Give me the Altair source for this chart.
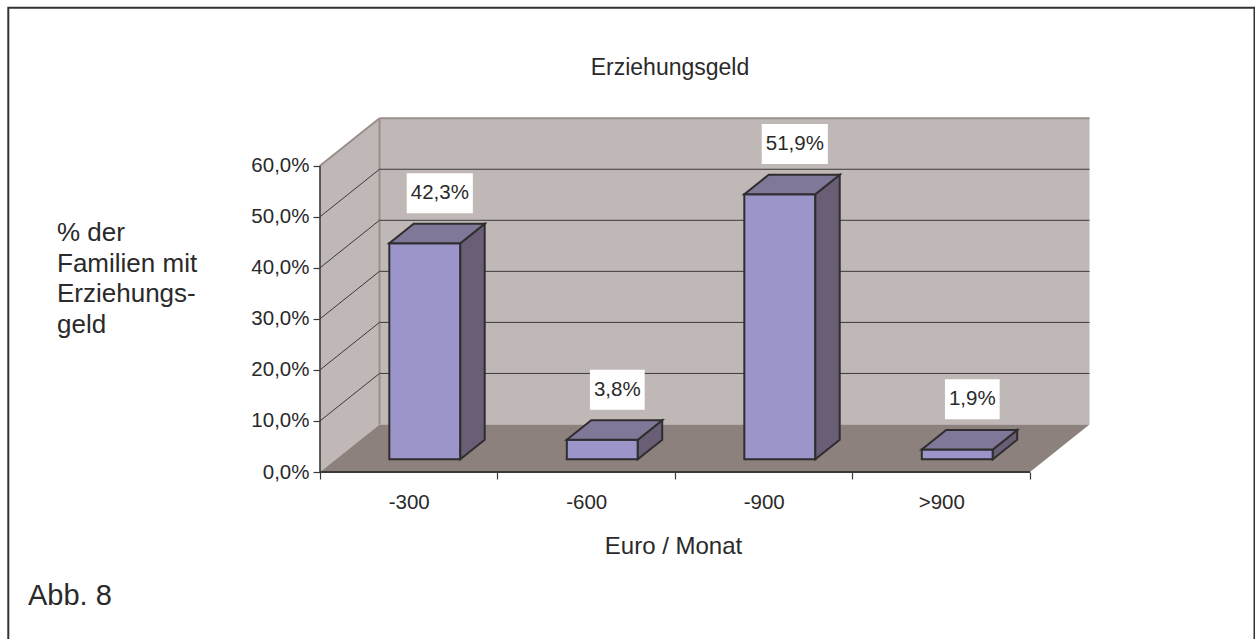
import json
import altair as alt
import pandas as pd

# ---- data -------------------------------------------------------------
categories = ["-300", "-600", "-900", ">900"]
shares = [42.3, 3.8, 51.9, 1.9]          # % der Familien mit Erziehungsgeld
y_ticks = [0, 10, 20, 30, 40, 50, 60]
wall_top = 60

# ---- plot geometry ----------------------------------------------------
W, H = 780, 368
PX_X = 177.5          # pixels per category slot
PX_Y = 5.105          # pixels per percentage point
X_LEFT, X_RIGHT = -0.5, len(categories) - 0.5
X_MAX = X_LEFT + W / PX_X
Y_MAX = H / PX_Y

# oblique projection of the depth direction (full floor depth)
DX = 59.5 / PX_X
DY = 47.5 / PX_Y
D0, D1 = 0.27, 0.68    # front / back depth of the columns
HW = 0.2               # half column width in category units

FONT = "Liberation Sans"
TEXT = "#2a2a2a"
WALL = "#c0b8b6"
FLOOR = "#8d817e"
EDGE = "#9a8f8d"
GRID = "#3a3a3a"
OUTLINE = "#2e2e2e"
FRONT = "#9b95c9"
TOP = "#817799"
SIDE = "#6a5e76"

xs = alt.Scale(domain=[X_LEFT, X_MAX], nice=False, zero=False)
ys = alt.Scale(domain=[0, Y_MAX], nice=False, zero=False)

x_labels = json.dumps(categories + [""])
X_AXIS = alt.Axis(
    values=[X_LEFT + k for k in range(len(categories) + 1)],
    labelExpr=f"{x_labels}[round(datum.value + 0.5)]",
    labelOffset=PX_X / 2, labelFlush=False, labelOverlap=False, labelBound=False,
    labelFont=FONT, labelFontSize=20.5, labelColor=TEXT,
    labelBaseline="alphabetic", labelPadding=29, labelAlign="center",
    tickSize=7, tickColor=GRID, tickWidth=1.2, domain=False, grid=False, title=None,
)
Y_AXIS = alt.Axis(
    values=y_ticks,
    labelExpr="replace(format(datum.value, '.1f'), '.', ',') + '%'",
    labelFont=FONT, labelFontSize=20.5, labelColor=TEXT, labelPadding=4,
    tickSize=7, tickColor=GRID, tickWidth=1.2, domain=False, grid=False, title=None,
)


def X(field="x"):
    return alt.X(f"{field}:Q", scale=xs, axis=X_AXIS)


def Y(field="y"):
    return alt.Y(f"{field}:Q", scale=ys, axis=Y_AXIS, stack=None)


# ---- walls and floor --------------------------------------------------
back_wall = pd.DataFrame([{"x": X_LEFT + DX, "x2": X_RIGHT + DX, "y": DY, "y2": wall_top + DY}])
left_wall = pd.DataFrame([
    {"x": X_LEFT, "y": 0, "y2": wall_top},
    {"x": X_LEFT + DX, "y": DY, "y2": wall_top + DY},
])
floor = pd.DataFrame([
    {"x": X_LEFT, "y": 0, "y2": 0},
    {"x": X_LEFT + DX, "y": 0, "y2": DY},
    {"x": X_RIGHT, "y": 0, "y2": DY},
    {"x": X_RIGHT + DX, "y": DY, "y2": DY},
])
wall_edges = pd.DataFrame([
    {"x": X_LEFT + DX, "x2": X_RIGHT + DX, "y": wall_top + DY, "y2": wall_top + DY},
    {"x": X_LEFT, "x2": X_LEFT + DX, "y": wall_top, "y2": wall_top + DY},
    {"x": X_LEFT + DX, "x2": X_LEFT + DX, "y": DY, "y2": wall_top + DY},
])
grid_back = pd.DataFrame([
    {"x": X_LEFT + DX, "x2": X_RIGHT + DX, "y": t + DY, "y2": t + DY}
    for t in y_ticks[1:-1]
])
grid_left = pd.DataFrame([
    {"x": X_LEFT, "x2": X_LEFT + DX, "y": t, "y2": t + DY}
    for t in y_ticks[1:-1]
])
axis_lines = pd.DataFrame([
    {"x": X_LEFT, "x2": X_RIGHT, "y": 0, "y2": 0, "w": 2.2},
    {"x": X_LEFT, "x2": X_LEFT, "y": 0, "y2": wall_top, "w": 1.6},
])

# ---- columns ----------------------------------------------------------
fronts, sides, tops, labels = [], [], [], []
digit_w = {",": 0.278, "%": 0.889}
for i, (cat, v) in enumerate(zip(categories, shares)):
    xl0, xr0 = i - HW + D0 * DX, i + HW + D0 * DX
    xl1, xr1 = i - HW + D1 * DX, i + HW + D1 * DX
    b0, b1 = D0 * DY, D1 * DY
    t0, t1 = v + b0, v + b1
    fronts.append({"cat": cat, "x": xl0, "x2": xr0, "y": b0, "y2": t0})
    sides += [
        {"cat": cat, "x": xr0, "y": b0, "y2": t0},
        {"cat": cat, "x": xr1, "y": b1, "y2": t1},
    ]
    tops += [
        {"cat": cat, "x": xl0, "y": t0, "y2": t0},
        {"cat": cat, "x": xl1, "y": t0, "y2": t1},
        {"cat": cat, "x": xr0, "y": t0, "y2": t1},
        {"cat": cat, "x": xr1, "y": t1, "y2": t1},
    ]
    text = f"{v:.1f}".replace(".", ",") + "%"
    text_px = 20.5 * sum(digit_w.get(c, 0.556) for c in text)
    half_w = (text_px + 8) / 2 / PX_X
    half_h = 20 / PX_Y
    lx, ly = i + 0.175, t1 + 6.0
    labels.append({"cat": cat, "text": text, "x": lx - half_w, "x2": lx + half_w,
                   "xc": lx, "y": ly - half_h, "y2": ly + half_h, "yc": ly})

fronts, sides, tops, labels = map(pd.DataFrame, (fronts, sides, tops, labels))

layers = [
    alt.Chart(back_wall).mark_rect(fill=WALL).encode(x=X(), x2="x2:Q", y=Y(), y2="y2:Q"),
    alt.Chart(left_wall).mark_area(fill=WALL, orient="vertical").encode(x=X(), y=Y(), y2="y2:Q"),
    alt.Chart(floor).mark_area(fill=FLOOR, orient="vertical").encode(x=X(), y=Y(), y2="y2:Q"),
    alt.Chart(wall_edges).mark_rule(color=EDGE, strokeWidth=2).encode(x=X(), x2="x2:Q", y=Y(), y2="y2:Q"),
    alt.Chart(grid_back).mark_rule(color=GRID, strokeWidth=1).encode(x=X(), x2="x2:Q", y=Y(), y2="y2:Q"),
    alt.Chart(grid_left).mark_rule(color=GRID, strokeWidth=1).encode(x=X(), x2="x2:Q", y=Y(), y2="y2:Q"),
    alt.Chart(axis_lines).mark_rule(color=GRID).encode(
        x=X(), x2="x2:Q", y=Y(), y2="y2:Q", strokeWidth=alt.StrokeWidth("w:Q", scale=None)),
    alt.Chart(fronts).mark_rect(fill=FRONT, stroke=OUTLINE, strokeWidth=2).encode(
        x=X(), x2="x2:Q", y=Y(), y2="y2:Q"),
    alt.Chart(sides).mark_area(fill=SIDE, stroke=OUTLINE, strokeWidth=2, strokeJoin="miter",
                               orient="vertical").encode(x=X(), y=Y(), y2="y2:Q", detail="cat:N"),
    alt.Chart(tops).mark_area(fill=TOP, stroke=OUTLINE, strokeWidth=2, strokeJoin="miter",
                              orient="vertical").encode(x=X(), y=Y(), y2="y2:Q", detail="cat:N"),
    alt.Chart(labels).mark_rect(fill="white").encode(x=X(), x2="x2:Q", y=Y(), y2="y2:Q"),
    alt.Chart(labels).mark_text(font=FONT, fontSize=20.5, color=TEXT, baseline="middle",
                                align="center").encode(x=X("xc"), y=Y("yc"), text="text:N"),
]

# ---- frame and titles -------------------------------------------------
one = pd.DataFrame([{"k": 0}])
layers += [
    alt.Chart(one).mark_rect(fillOpacity=0, stroke="#333333", strokeWidth=2).encode(
        x=alt.value(-311.7), x2=alt.value(934.5), y=alt.value(-96.3), y2=alt.value(545)),
    alt.Chart(one).mark_text(font=FONT, fontSize=23, color=TEXT, align="center",
                             baseline="alphabetic").encode(
        x=alt.value(350), y=alt.value(-29), text=alt.value("Erziehungsgeld")),
    alt.Chart(one).mark_text(font=FONT, fontSize=24, color=TEXT, align="center",
                             baseline="alphabetic").encode(
        x=alt.value(353.5), y=alt.value(450), text=alt.value("Euro / Monat")),
    alt.Chart(one).mark_text(font=FONT, fontSize=26, color=TEXT, align="left",
                             baseline="alphabetic", lineHeight=30.5).encode(
        x=alt.value(-263), y=alt.value(137),
        text=alt.value(["% der", "Familien mit", "Erziehungs-", "geld"])),
    alt.Chart(one).mark_text(font=FONT, fontSize=29, color=TEXT, align="left",
                             baseline="alphabetic").encode(
        x=alt.value(-292), y=alt.value(501), text=alt.value("Abb. 8")),
]

chart = alt.layer(*layers).properties(
    width=W, height=H,
    padding={"left": 320, "top": 104, "right": 155, "bottom": 167},
    autosize=alt.AutoSizeParams(type="none"),
    background="white",
).configure_view(stroke=None)

chart.save("out.html", embed_options={"renderer": "svg", "actions": False})
